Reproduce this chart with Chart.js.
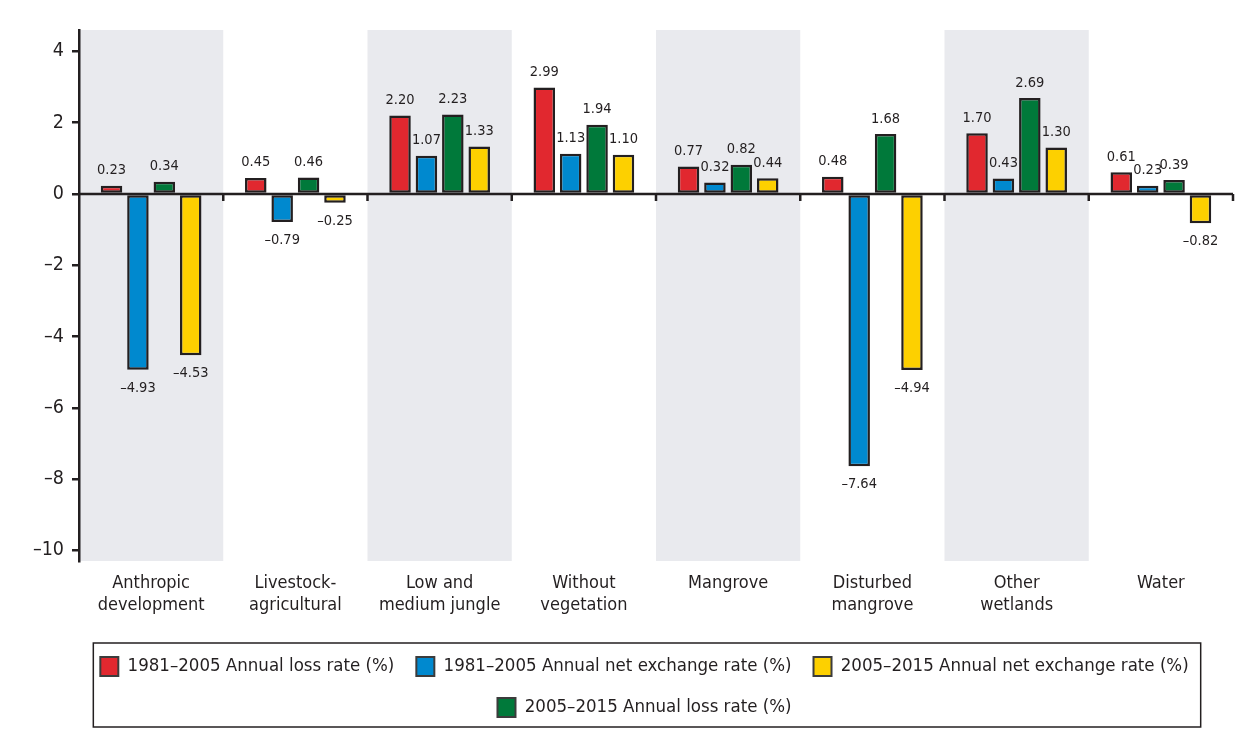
<!DOCTYPE html>
<html>
<head>
<meta charset="utf-8">
<title>Annual loss and net exchange rates by land cover</title>
<script src="https://cdn.jsdelivr.net/npm/chart.js@4"></script>
<style>
  body { margin: 0; background: #fff; }
  #wrap { width: 1243px; height: 732px; }
</style>
</head>
<body>
<div id="wrap"><canvas id="myBars"></canvas></div>
<script>
// land cover classes (x axis)
const categories = [
  ['Anthropic', 'development'],
  ['Livestock-', 'agricultural'],
  ['Low and', 'medium jungle'],
  ['Without', 'vegetation'],
  ['Mangrove'],
  ['Disturbed', 'mangrove'],
  ['Other', 'wetlands'],
  ['Water']
];

const seriesNames = [
  '1981\u20132005 Annual loss rate (%)',
  '1981\u20132005 Annual net exchange rate (%)',
  '2005\u20132015 Annual loss rate (%)',
  '2005\u20132015 Annual net exchange rate (%)'
];

const loss8105 = [0.23, 0.45, 2.20, 2.99, 0.77, 0.48, 1.70, 0.61];
const net8105 = [-4.93, -0.79, 1.07, 1.13, 0.32, -7.64, 0.43, 0.23];
const loss0515 = [0.34, 0.46, 2.23, 1.94, 0.82, 1.68, 2.69, 0.39];
const net0515 = [-4.53, -0.25, 1.33, 1.10, 0.44, -4.94, 1.30, -0.82];

const yTicks = [-10, -8, -6, -4, -2, 0, 2, 4];
const legendOrder = [0, 1, 3, 2];

const dark = '#231f20';
const font = "'DejaVu Sans Condensed', 'Liberation Sans Narrow', sans-serif";
const colors = ['#e1282f', '#0089cf', '#00793a', '#fdd000'];
const legendShift = 12;

function dash (v) {
  // the figure prints negatives with a dash
  return v < 0 ? '\u2013' + Math.abs(v) : String(v);
}

// grey band behind every other class
const bands = {
  id: 'bands',
  beforeDraw (chart) {
    const {ctx, chartArea, scales} = chart;
    const x = scales.x;
    const half = (x.getPixelForValue(1) - x.getPixelForValue(0)) / 2;
    ctx.save();
    ctx.fillStyle = '#e9eaee';
    for (let i = 0; i < categories.length; i += 2) {
      const c = x.getPixelForValue(i);
      ctx.fillRect(c - half, chartArea.top, half * 2, chartArea.bottom - chartArea.top);
    }
    ctx.restore();
  }
};

// zero line, class separators and value labels
const marks = {
  id: 'marks',
  afterDatasetsDraw (chart) {
    const {ctx, chartArea, scales} = chart;
    const x = scales.x;
    const y0 = scales.y.getPixelForValue(0);
    const half = (x.getPixelForValue(1) - x.getPixelForValue(0)) / 2;
    ctx.save();
    ctx.strokeStyle = dark;
    ctx.lineWidth = 2.5;
    ctx.beginPath();
    ctx.moveTo(chartArea.left, y0);
    ctx.lineTo(chartArea.right, y0);
    for (let i = 0; i < categories.length; i++) {
      const bx = x.getPixelForValue(i) + half;
      ctx.moveTo(bx, y0);
      ctx.lineTo(bx, y0 + 7);
    }
    ctx.stroke();

    ctx.fillStyle = dark;
    ctx.font = '14.5px ' + font;
    ctx.textAlign = 'center';
    ctx.textBaseline = 'alphabetic';
    chart.data.datasets.forEach(function (ds, d) {
      chart.getDatasetMeta(d).data.forEach(function (bar, i) {
        const v = ds.data[i];
        if (v >= 0) {
          ctx.fillText(v.toFixed(2), bar.x, bar.y - 11.5);
        } else {
          ctx.fillText('\u2013' + Math.abs(v).toFixed(2), bar.x, bar.y + 22);
        }
      });
    });
    ctx.restore();
  }
};

// legend sits a little right of centre in the figure, and has a frame
const legendFrame = {
  id: 'legendFrame',
  afterUpdate (chart) {
    const lg = chart.legend;
    lg.left += legendShift;
    lg.right += legendShift;
    lg.legendHitBoxes.forEach(function (h) { h.left += legendShift; });
  },
  afterDraw (chart) {
    const boxes = chart.legend.legendHitBoxes;
    if (!boxes || !boxes.length) {
      return;
    }
    let l = Infinity, r = -Infinity, t = Infinity, b = -Infinity;
    boxes.forEach(function (h) {
      l = Math.min(l, h.left);
      r = Math.max(r, h.left + h.width);
      t = Math.min(t, h.top);
      b = Math.max(b, h.top + h.height);
    });
    const ctx = chart.ctx;
    ctx.save();
    ctx.strokeStyle = dark;
    ctx.lineWidth = 1.5;
    ctx.strokeRect(l - 7, t - 14, r - l + 19, b - t + 24);
    ctx.restore();
  }
};

const ctx = document.getElementById('myBars');

new Chart(ctx, {
  type: 'bar',
  data: {
    labels: categories,
    datasets: [loss8105, net8105, loss0515, net0515].map(function (vals, i) {
      return {
        label: seriesNames[i],
        data: vals,
        backgroundColor: colors[i],
        borderColor: dark,
        borderWidth: 2.5,
        borderSkipped: false,
        categoryPercentage: 0.732,
        barPercentage: 0.815
      };
    })
  },
  options: {
    responsive: true,
    maintainAspectRatio: false,
    animation: false,
    layout: {
      padding: {left: 32, right: 10, top: 30, bottom: 5}
    },
    scales: {
      x: {
        grid: {display: false},
        border: {display: false},
        ticks: {
          color: dark,
          padding: 3,
          maxRotation: 0,
          autoSkip: false,
          font: {family: font, size: 18, lineHeight: 1.22}
        },
        afterFit: function (s) { s.height = 74; }
      },
      y: {
        min: -10.3,
        max: 4.6,
        afterBuildTicks: function (s) {
          s.ticks = yTicks.map(function (v) { return {value: v}; });
        },
        afterFit: function (s) { s.width = 47; },
        border: {display: true, color: dark, width: 2.5},
        grid: {
          drawOnChartArea: false,
          drawTicks: true,
          tickLength: 7,
          color: dark,
          lineWidth: 2.5
        },
        ticks: {
          color: dark,
          padding: 8,
          font: {family: font, size: 19.5},
          callback: function (v) { return dash(v); }
        }
      }
    },
    plugins: {
      tooltip: {enabled: false},
      legend: {
        position: 'bottom',
        labels: {
          color: dark,
          boxWidth: 18,
          boxHeight: 19,
          padding: 22,
          font: {family: font, size: 18.5},
          sort: function (a, b) {
            return legendOrder.indexOf(a.datasetIndex) - legendOrder.indexOf(b.datasetIndex);
          },
          generateLabels: function (chart) {
            const items = Chart.defaults.plugins.legend.labels.generateLabels(chart);
            items.forEach(function (it) {
              it.strokeStyle = '#3c3c3c';
              it.lineWidth = 2;
            });
            return items;
          }
        }
      }
    }
  },
  plugins: [bands, marks, legendFrame]
});
</script>
</body>
</html>
